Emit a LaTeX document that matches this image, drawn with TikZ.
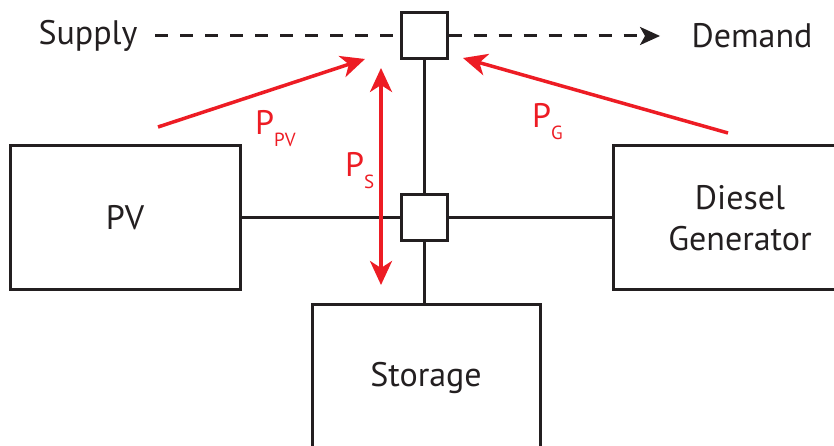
\documentclass[tikz,border=0pt]{standalone}
\usepackage{fontspec}
\setmainfont{PT Sans}
\usetikzlibrary{arrows.meta}
\usetikzlibrary{positioning}
\definecolor{flowred}{HTML}{ED1C24}
\definecolor{inkblack}{HTML}{231F20}
\newcommand{\lowidx}[1]{\raisebox{-12pt}{\fontsize{19}{22}\selectfont #1}}

\begin{document}
\begin{tikzpicture}[
        x=1pt, y=1pt,
        unit/.style={rectangle, draw=inkblack, line width=3pt,
          minimum width=230pt, minimum height=144pt,
          align=center, font=\fontsize{34}{41}\selectfont, text=inkblack},
        bus/.style={rectangle, draw=inkblack, line width=3pt,
          minimum size=46pt, inner sep=0pt},
        wire/.style={draw=inkblack, line width=3pt},
        lbl/.style={font=\fontsize{34}{41}\selectfont, text=inkblack},
        flow/.style={line width=3.5pt, draw=flowred},
        flowlbl/.style={font=\fontsize{34}{41}\selectfont, text=flowred,
          anchor=base west, inner sep=0pt},
      ]

      \clip (0,0) rectangle (834,446);

      % Units
      \node[unit] (pv) at (125,228) {PV};
      \node[unit, minimum width=254pt] (diesel) at (740,228) {Diesel\\Generator};
      \node[unit, minimum width=228pt, minimum height=146pt] (storage) at (426,68) {Storage};

      % Buses
      \node[bus] (ac) at (424,228) {};
      \node[bus] (load) at (424,410) {};

      % Supply / demand
      \node[lbl] (supply) at (88,410) {Supply};
      \node[lbl] (demand) at (752,410) {Demand};

      % Wires
      \draw[wire] (pv.east) -- (ac.west);
      \draw[wire] (ac.east) -- (diesel.west);
      \draw[wire] (ac.south) -- (storage.north -| ac.south);
      \draw[wire] (ac.north) -- (load.south);
      \draw[wire, dash pattern=on 13pt off 12pt]
        ([xshift=14pt]supply.east) -- (load.west);
      \draw[wire, dash pattern=on 13pt off 12pt,
        -{Stealth[length=20pt, width=18pt, inset=5pt]}, shorten >=28pt]
        (load.east) -- (demand.west);

      % Power flows
      \coordinate (pvtail) at (158,319);
      \coordinate (pvhead) at (365,387);
      \coordinate (gtail) at (728,313);
      \coordinate (ghead) at (463,388);
      \coordinate (stop) at (381,378);
      \coordinate (sbot) at (381,161);

      \draw[flow, -{Stealth[length=24pt, width=22pt, inset=7pt]}] (pvtail) -- (pvhead);
      \draw[flow, -{Stealth[length=24pt, width=22pt, inset=7pt]}] (gtail) -- (ghead);
      \draw[flow, {Stealth[length=24pt, width=22pt, inset=7pt]}-{Stealth[length=24pt, width=22pt, inset=7pt]}] (stop) -- (sbot);

      \node[flowlbl] (ppv) at (255,311) {P\lowidx{PV}};
      \node[flowlbl] (ps) at (345,269) {P\lowidx{S}};
      \node[flowlbl] (pg) at (532,318) {P\lowidx{G}};

      \end{tikzpicture}
\end{document}
